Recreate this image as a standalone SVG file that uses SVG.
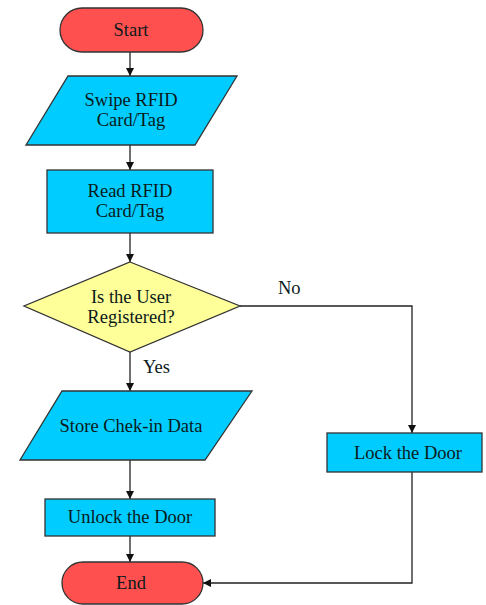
<svg xmlns="http://www.w3.org/2000/svg" width="486" height="605" viewBox="0 0 486 605">
<defs>
<marker id="arr" viewBox="0 0 10 10" refX="10" refY="5" markerWidth="8" markerHeight="8" markerUnits="userSpaceOnUse" orient="auto">
<path d="M0,0 L10,5 L0,10 z" fill="#111"/>
</marker>
<style>
.term{fill:#FF5050;stroke:#333;stroke-width:1.3}
.proc{fill:#00CCFF;stroke:#333;stroke-width:1.3}
.dec{fill:#FFFF99;stroke:#333;stroke-width:1.3}
.t{font-family:"Liberation Serif","Times New Roman",serif;font-size:18.5px;fill:#0a1a1a;text-anchor:middle}
.lbl{font-family:"Liberation Serif","Times New Roman",serif;font-size:18.5px;fill:#0a1a1a}
.c{fill:none;stroke:#222;stroke-width:1.3;marker-end:url(#arr)}
</style>
</defs>
<rect width="486" height="605" fill="#fff"/>
<g id="connectors">
<line class="c" x1="130" y1="52" x2="130" y2="76"/>
<line class="c" x1="130" y1="145" x2="130" y2="170"/>
<line class="c" x1="130" y1="233" x2="130" y2="262"/>
<line class="c" x1="130" y1="352" x2="130" y2="391"/>
<line class="c" x1="130" y1="460" x2="130" y2="499"/>
<line class="c" x1="130" y1="536" x2="130" y2="562"/>
<polyline class="c" points="240,306 412,306 412,433"/>
<polyline class="c" points="412,472 412,583 203,583"/>
<text class="lbl" x="278" y="294">No</text>
<text class="lbl" x="143" y="373">Yes</text>
</g>
<g id="start">
<rect class="term" x="60" y="8" width="143" height="44" rx="22"/>
<text class="t" x="131" y="36">Start</text>
</g>
<g id="swipe">
<polygon class="proc" points="68,76 237,76 195,145 26,145"/>
<text class="t" x="131" y="106">Swipe RFID</text>
<text class="t" x="131" y="126">Card/Tag</text>
</g>
<g id="read">
<rect class="proc" x="47" y="170" width="166" height="63"/>
<text class="t" x="130" y="197">Read RFID</text>
<text class="t" x="130" y="217">Card/Tag</text>
</g>
<g id="decision">
<polygon class="dec" points="130,262 240,306 130,352 24,306"/>
<text class="t" x="131" y="303">Is the User</text>
<text class="t" x="131" y="323">Registered?</text>
</g>
<g id="store">
<polygon class="proc" points="62,391 252,391 205,460 20,460"/>
<text class="t" x="131" y="432">Store Chek-in Data</text>
</g>
<g id="unlock">
<rect class="proc" x="45" y="499" width="170" height="37"/>
<text class="t" x="130" y="523">Unlock the Door</text>
</g>
<g id="end">
<rect class="term" x="62" y="562" width="141" height="42" rx="21"/>
<text class="t" x="131" y="589">End</text>
</g>
<g id="lock">
<rect class="proc" x="327" y="433" width="155" height="39"/>
<text class="t" x="408" y="459">Lock the Door</text>
</g>
</svg>
